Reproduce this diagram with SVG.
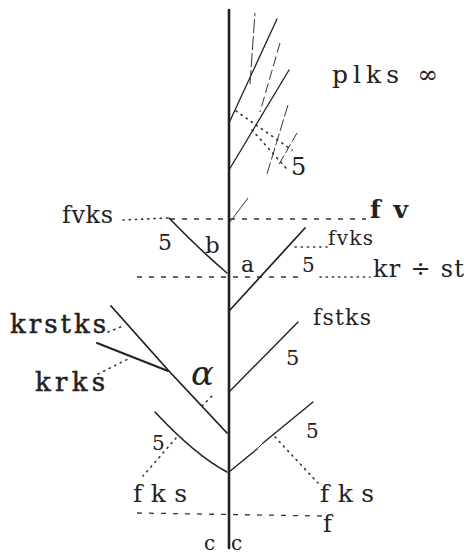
<svg xmlns="http://www.w3.org/2000/svg" width="464" height="556" viewBox="0 0 464 556">
<style>
text{font-family:"DejaVu Serif","Liberation Serif",serif;fill:#222}
.br{stroke:#222;fill:none;stroke-linecap:round}
.thin{stroke:#333;fill:none;stroke-width:1}
.dash{stroke:#333;fill:none;stroke-width:1.3;stroke-dasharray:5 7}
.dot{stroke:#333;fill:none;stroke-width:1.6;stroke-dasharray:1.2 5;stroke-linecap:round}
.heavy{stroke:#222;stroke-width:0.5}
</style>
<rect width="464" height="556" fill="#fff"/>
<g id="connectors">
  <path class="dot" d="M123,220 L168,218"/>
  <path class="dash" d="M170,219 L366,219"/>
  <path class="dash" d="M137,277 L300,277"/>
  <path class="dot" d="M320,277 L370,277"/>
  <path class="dot" d="M295,247 L327,247"/>
  <path class="dash" d="M137,513 L322,516"/>
  <path class="dot" d="M108,332 L123,326"/>
  <path class="dot" d="M98,374 L128,359"/>
  <path class="dot" d="M202,406 L213,395"/>
  <path class="dot" d="M176,438 L143,476"/>
  <path class="dot" d="M275,437 L318,483"/>
  <path class="dot" d="M236,111 L292,150"/>
  <path class="dot" d="M252,130 L286,168"/>
</g>
<g id="stem">
  <path class="br" d="M229,10 L229,548" stroke-width="2.6"/>
</g>
<g id="upper-shoots">
  <path class="br" d="M229,123 L277,19" stroke-width="1.3"/>
  <path class="thin" d="M250,84 L255,13" stroke-dasharray="14 3"/>
  <path class="br" d="M229,170 L289,70" stroke-width="1.3"/>
  <path class="thin" d="M280,43 L260,112" stroke-dasharray="10 4"/>
  <path class="thin" d="M288,105 L267,174" stroke-dasharray="12 3"/>
  <path class="thin" d="M297,133 L278,166" stroke-dasharray="10 3"/>
  <path class="thin" d="M230,222 L248,198"/>
</g>
<g id="branch-b">
  <path class="br" d="M169,218 Q200,250 227,273" stroke-width="1.6"/>
</g>
<g id="branch-a">
  <path class="br" d="M230,310 L305,228" stroke-width="1.7"/>
</g>
<g id="branch-fstks">
  <path class="br" d="M229,392 L298,322" stroke-width="1.4"/>
</g>
<g id="branch-krstks">
  <path class="br" d="M111,306 L168,370 L227,433" stroke-width="1.8"/>
  <path class="br" d="M97,343 L168,371" stroke-width="2"/>
</g>
<g id="branch-lower">
  <path class="br" d="M155,412 Q195,455 227,472" stroke-width="1.6"/>
  <path class="br" d="M229,472 L257,449" stroke-width="1.4"/>
  <path class="br" d="M263,443 L313,402" stroke-width="1.4"/>
  <path class="thin" d="M257,449 L263,443" stroke-width="0.6"/>
</g>
<g id="labels">
  <text x="332" y="83" font-size="25" textLength="106" lengthAdjust="spacing">plks ∞</text>
  <text x="291" y="175" font-size="24">5</text>
  <text x="62" y="223" font-size="24" textLength="51" lengthAdjust="spacing">fvks</text>
  <text x="370" y="218" font-size="25" font-weight="bold" textLength="38" lengthAdjust="spacing">fv</text>
  <text x="328" y="245" font-size="20" textLength="45" lengthAdjust="spacing">fvks</text>
  <text x="158" y="250" font-size="22">5</text>
  <text x="205" y="253" font-size="23">b</text>
  <text x="241" y="272" font-size="22">a</text>
  <text x="302" y="272" font-size="20">5</text>
  <text x="373" y="277" font-size="24" textLength="91" lengthAdjust="spacing">kr ÷ st</text>
  <text x="313" y="325" font-size="22" textLength="58" lengthAdjust="spacing">fstks</text>
  <text x="286" y="365" font-size="21">5</text>
  <text class="heavy" x="10" y="333" font-size="26" textLength="96" lengthAdjust="spacing">krstks</text>
  <text class="heavy" x="35" y="391" font-size="26" textLength="70" lengthAdjust="spacing">krks</text>
  <text x="191" y="385" font-size="34" font-style="italic">α</text>
  <text x="152" y="450" font-size="20">5</text>
  <text x="306" y="438" font-size="20">5</text>
  <text x="133" y="502" font-size="25" textLength="54" lengthAdjust="spacing">fks</text>
  <text x="320" y="502" font-size="25" textLength="54" lengthAdjust="spacing">fks</text>
  <text x="323" y="532" font-size="24">f</text>
  <text x="204" y="550" font-size="20">c</text>
  <text x="231" y="550" font-size="20">c</text>
</g>
</svg>
